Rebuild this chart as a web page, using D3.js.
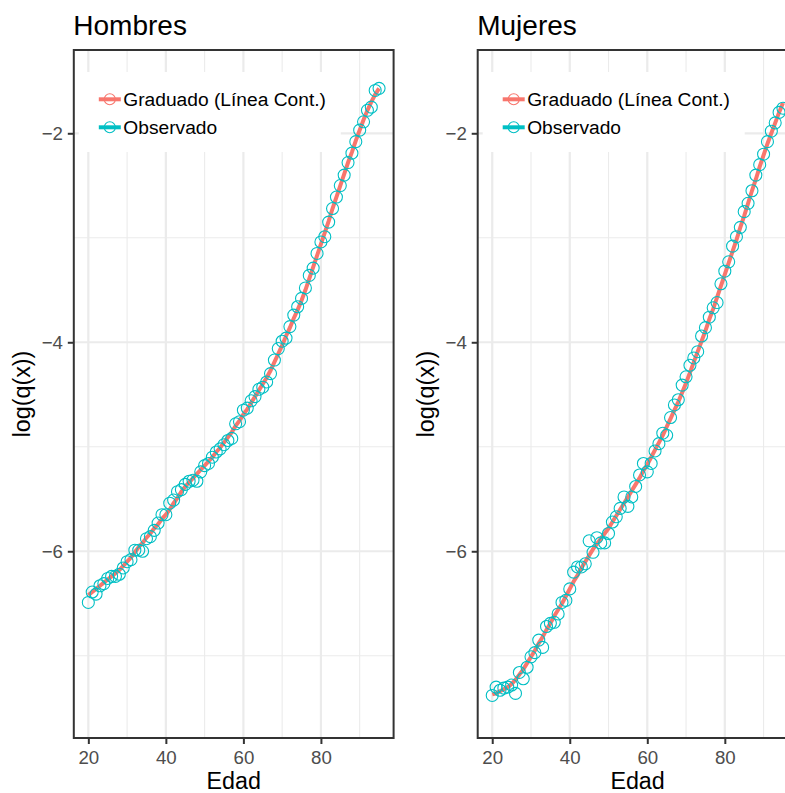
<!DOCTYPE html>
<html><head><meta charset="utf-8">
<script src="https://cdn.jsdelivr.net/npm/d3@7"></script>
<style>
body{margin:0;background:#fff}
svg{display:block}
text{font-family:"Liberation Sans",Arial,Helvetica,sans-serif}
</style>
</head><body>
<svg id="chart" width="785" height="793"></svg>
<script>
// ---------- data ----------
const ages = [20,21,22,23,24,25,26,27,28,29,30,31,32,33,34,35,36,37,38,39,
  40,41,42,43,44,45,46,47,48,49,50,51,52,53,54,55,56,57,58,59,
  60,61,62,63,64,65,66,67,68,69,70,71,72,73,74,75,76,77,78,79,
  80,81,82,83,84,85,86,87,88,89,90,91,92,93,94,95];

const hombresGraduado = [
  -6.42,-6.39,-6.36,-6.33,-6.30,-6.27,-6.24,-6.21,-6.18,-6.14,
  -6.10,-6.06,-6.01,-5.96,-5.92,-5.87,-5.83,-5.78,-5.74,-5.69,
  -5.65,-5.60,-5.54,-5.49,-5.43,-5.38,-5.34,-5.30,-5.26,-5.22,
  -5.18,-5.14,-5.10,-5.05,-5.01,-4.96,-4.91,-4.86,-4.80,-4.75,
  -4.69,-4.64,-4.58,-4.52,-4.46,-4.40,-4.34,-4.27,-4.19,-4.11,
  -4.03,-3.94,-3.86,-3.77,-3.69,-3.60,-3.50,-3.39,-3.28,-3.17,
  -3.06,-2.95,-2.84,-2.72,-2.61,-2.50,-2.39,-2.28,-2.18,-2.07,
  -1.97,-1.87,-1.78,-1.70,-1.63,-1.57];

const hombresObservado = [
  -6.49,-6.39,-6.41,-6.33,-6.31,-6.26,-6.24,-6.24,-6.22,-6.16,
  -6.10,-6.08,-5.99,-5.99,-6.00,-5.88,-5.86,-5.80,-5.73,-5.65,
  -5.65,-5.54,-5.51,-5.43,-5.41,-5.36,-5.33,-5.32,-5.33,-5.24,
  -5.18,-5.16,-5.10,-5.05,-5.02,-4.98,-4.94,-4.92,-4.78,-4.76,
  -4.65,-4.63,-4.56,-4.52,-4.45,-4.43,-4.38,-4.30,-4.17,-4.06,
  -3.99,-3.96,-3.85,-3.74,-3.66,-3.58,-3.48,-3.36,-3.29,-3.15,
  -3.04,-2.99,-2.85,-2.72,-2.61,-2.50,-2.40,-2.28,-2.19,-2.08,
  -1.97,-1.89,-1.78,-1.75,-1.59,-1.57];

const mujeresGraduado = [
  -7.37,-7.36,-7.34,-7.32,-7.30,-7.27,-7.23,-7.18,-7.13,-7.07,
  -7.01,-6.95,-6.88,-6.82,-6.75,-6.69,-6.62,-6.56,-6.50,-6.43,
  -6.36,-6.29,-6.23,-6.16,-6.10,-6.04,-5.98,-5.93,-5.88,-5.83,
  -5.78,-5.72,-5.66,-5.60,-5.54,-5.48,-5.42,-5.36,-5.30,-5.23,
  -5.17,-5.10,-5.03,-4.96,-4.89,-4.81,-4.73,-4.65,-4.57,-4.48,
  -4.39,-4.29,-4.19,-4.09,-3.99,-3.89,-3.78,-3.68,-3.57,-3.46,
  -3.35,-3.24,-3.13,-3.02,-2.90,-2.79,-2.67,-2.55,-2.44,-2.32,
  -2.21,-2.10,-2.00,-1.90,-1.80,-1.71];

const mujeresObservado = [
  -7.38,-7.30,-7.33,-7.31,-7.30,-7.28,-7.36,-7.16,-7.22,-7.11,
  -7.01,-6.97,-6.85,-6.92,-6.72,-6.69,-6.68,-6.60,-6.49,-6.47,
  -6.36,-6.20,-6.15,-6.15,-6.12,-5.90,-6.01,-5.87,-5.92,-5.92,
  -5.83,-5.72,-5.67,-5.59,-5.48,-5.57,-5.48,-5.38,-5.27,-5.16,
  -5.24,-5.16,-5.04,-4.97,-4.87,-4.89,-4.72,-4.60,-4.55,-4.41,
  -4.33,-4.22,-4.15,-4.09,-3.94,-3.86,-3.76,-3.67,-3.62,-3.44,
  -3.32,-3.23,-3.08,-2.99,-2.90,-2.75,-2.67,-2.55,-2.40,-2.30,
  -2.20,-2.08,-1.98,-1.90,-1.80,-1.76];

const panelTitles = ["Hombres", "Mujeres"];
const seriesNames = ["Graduado (Línea Cont.)", "Observado"];
const seriesColors = ["#F8766D", "#00BFC4"];
const xMajorTicks = [20, 40, 60, 80];
const xMinorTicks = [30, 50, 70, 90];
const yMajorTicks = [-2, -4, -6];
const yMinorTicks = [-3, -5, -7];
const xDomain = [16.25, 98.75];
const yDomain = [-7.787, -1.203];

// ---------- layout ----------
const svg = d3.select("#chart");
const panelTop = 50, panelBottom = 738, panelW = 319.8;
const panelLefts = [73.8, 477.7];
const panelsData = [
  {title: panelTitles[0], grad: hombresGraduado, obs: hombresObservado},
  {title: panelTitles[1], grad: mujeresGraduado, obs: mujeresObservado}
];
const gridCol = "#ebebeb", borderCol = "#333333", tickTextCol = "#4d4d4d";

panelsData.forEach((p, i) => {
  const left = panelLefts[i];
  const x = d3.scaleLinear().domain(xDomain).range([left, left + panelW]);
  const y = d3.scaleLinear().domain(yDomain).range([panelBottom, panelTop]);
  const g = svg.append("g");

  const clipId = "clip" + i;
  svg.append("clipPath").attr("id", clipId).append("rect")
    .attr("x", left).attr("y", panelTop).attr("width", panelW).attr("height", panelBottom - panelTop);

  g.append("rect").attr("x", left).attr("y", panelTop).attr("width", panelW)
    .attr("height", panelBottom - panelTop).attr("fill", "#fff");

  // grid minor
  g.selectAll(".vmin").data(xMinorTicks).enter().append("line")
    .attr("x1", d => x(d)).attr("x2", d => x(d)).attr("y1", panelTop).attr("y2", panelBottom)
    .attr("stroke", gridCol).attr("stroke-width", 1.1);
  g.selectAll(".hmin").data(yMinorTicks).enter().append("line")
    .attr("y1", d => y(d)).attr("y2", d => y(d)).attr("x1", left).attr("x2", left + panelW)
    .attr("stroke", gridCol).attr("stroke-width", 1.1);
  // grid major
  g.selectAll(".vmaj").data(xMajorTicks).enter().append("line")
    .attr("x1", d => x(d)).attr("x2", d => x(d)).attr("y1", panelTop).attr("y2", panelBottom)
    .attr("stroke", gridCol).attr("stroke-width", 2.2);
  g.selectAll(".hmaj").data(yMajorTicks).enter().append("line")
    .attr("y1", d => y(d)).attr("y2", d => y(d)).attr("x1", left).attr("x2", left + panelW)
    .attr("stroke", gridCol).attr("stroke-width", 2.2);

  // data
  const dg = g.append("g").attr("clip-path", `url(#${clipId})`);
  const line = d3.line().x((d, k) => x(ages[k])).y(d => y(d));
  dg.append("path").datum(p.grad).attr("d", line)
    .attr("fill", "none").attr("stroke", seriesColors[0]).attr("stroke-width", 4);
  dg.selectAll("circle").data(p.obs).enter().append("circle")
    .attr("cx", (d, k) => x(ages[k])).attr("cy", d => y(d)).attr("r", 6)
    .attr("fill", "none").attr("stroke", seriesColors[1]).attr("stroke-width", 1.1);

  // panel border
  g.append("rect").attr("x", left).attr("y", panelTop).attr("width", panelW)
    .attr("height", panelBottom - panelTop).attr("fill", "none")
    .attr("stroke", borderCol).attr("stroke-width", 2);

  // axes
  const xAxis = g.append("g").attr("transform", `translate(0,${panelBottom})`)
    .call(d3.axisBottom(x).tickValues(xMajorTicks).tickFormat(d3.format("d")).tickSize(6).tickPadding(6.5));
  const yAxis = g.append("g").attr("transform", `translate(${left},0)`)
    .call(d3.axisLeft(y).tickValues(yMajorTicks).tickFormat(d3.format("d")).tickSize(6).tickPadding(4.8));
  [xAxis, yAxis].forEach(a => {
    a.select(".domain").remove();
    a.selectAll(".tick line").attr("stroke", borderCol).attr("stroke-width", 2);
    a.selectAll(".tick text").attr("fill", tickTextCol).style("font-size", "18.7px")
      .style("font-family", '"Liberation Sans",Arial,sans-serif');
  });

  // titles
  svg.append("text").attr("x", left - 0.5).attr("y", 34.5).text(p.title)
    .style("font-size", "28px").attr("fill", "#000");
  svg.append("text").attr("x", left + panelW / 2).attr("y", 789).attr("text-anchor", "middle")
    .text("Edad").style("font-size", "23.3px").attr("fill", "#000");
  svg.append("text").attr("transform", `translate(${left - 43.5},${(panelTop + panelBottom) / 2}) rotate(-90)`)
    .attr("text-anchor", "middle").text("log(q(x))").style("font-size", "23.3px").attr("fill", "#000");

  // legend
  const lg = svg.append("g");
  lg.append("rect").attr("x", left + 5).attr("y", 72).attr("width", 262).attr("height", 80).attr("fill", "#fff");
  const keyYs = [99.3, 127.3];
  seriesNames.forEach((name, k) => {
    const ky = keyYs[k];
    lg.append("line").attr("x1", left + 25).attr("x2", left + 47).attr("y1", ky).attr("y2", ky)
      .attr("stroke", seriesColors[k]).attr("stroke-width", 4);
    lg.append("circle").attr("cx", left + 36).attr("cy", ky).attr("r", 5.5)
      .attr("fill", "none").attr("stroke", seriesColors[k]).attr("stroke-width", 1.1);
    lg.append("text").attr("x", left + 49.5).attr("y", ky + 6.5).text(name)
      .style("font-size", "19.2px").attr("fill", "#000");
  });
});
</script>
</body></html>
